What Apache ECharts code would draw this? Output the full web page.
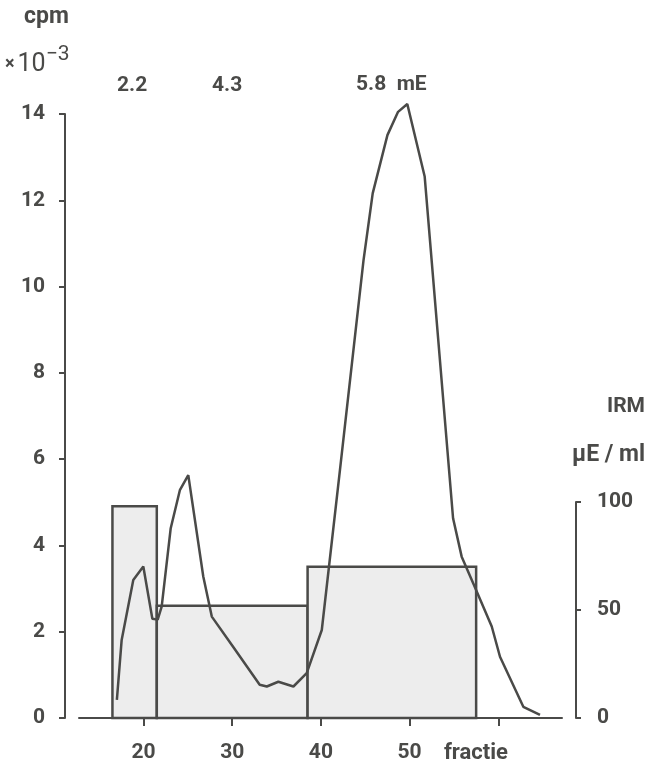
<!DOCTYPE html>
<html>
<head>
<meta charset="utf-8">
<script src="https://cdn.jsdelivr.net/npm/echarts@6/dist/echarts.min.js"></script>
<style>
  html, body { margin: 0; padding: 0; background: #fff; }
  #chart { width: 665px; height: 768px; }
</style>
</head>
<body>
<div id="chart"></div>
<script>
// cpm curve (x 10^-3) per fraction
var cpmFraction = [17.0, 17.54, 18.85, 19.98, 21.0, 21.6, 22.05, 23.07, 24.1, 25.05, 26.74, 27.7, 30.1, 33.1, 33.9, 35.2, 36.9, 38.4, 40.1, 42.15, 44.8, 45.84, 47.5, 48.7, 49.74, 51.7, 54.9, 55.87, 57.18, 59.26, 60.19, 62.82, 64.7];
var cpmValues = [0.42, 1.81, 3.2, 3.51, 2.3, 2.28, 2.58, 4.4, 5.28, 5.63, 3.28, 2.35, 1.65, 0.77, 0.73, 0.84, 0.73, 1.04, 2.04, 5.75, 10.6, 12.16, 13.51, 14.05, 14.23, 12.55, 4.63, 3.74, 3.12, 2.12, 1.42, 0.26, 0.07];

// IRM pools (uE/ml): fraction edges and value per pool
var poolEdges = [16.5, 21.5, 38.5, 57.5];
var poolValues = [98, 52, 70];

var xTicks = [20, 30, 40, 50, 60];
var xLabels = [20, 30, 40, 50];
var peakLabels = ['2.2', '4.3', '5.8  mE'];

var ink = '#4a4a48';
var font = 'Roboto';

var lineData = [];
for (var i = 0; i < cpmFraction.length; i++) {
    lineData.push([cpmFraction[i], cpmValues[i]]);
}
var poolData = [];
for (var j = 0; j < poolValues.length; j++) {
    poolData.push([poolEdges[j], poolEdges[j + 1], poolValues[j]]);
}

function xAxisFor(idx, show) {
    return {
        type: 'value', gridIndex: idx, min: 12.73, max: 67.18,
        show: show,
        splitLine: { show: false },
        axisLine: { lineStyle: { color: ink, width: 2 } },
        axisTick: { customValues: xTicks, length: 8, lineStyle: { color: ink, width: 2 } },
        axisLabel: { customValues: xLabels, margin: 24, color: ink, fontFamily: font, fontWeight: 'bold', fontSize: 21 }
    };
}

var option = {
    animation: false,
    backgroundColor: '#fff',
    grid: [
        { left: 79, right: 103, top: 114, bottom: 50 },
        { left: 79, right: 103, top: 502, bottom: 50 }
    ],
    xAxis: [xAxisFor(0, true), xAxisFor(1, false)],
    yAxis: [
        {
            type: 'value', gridIndex: 0, min: 0, max: 14, interval: 2, offset: 14,
            splitLine: { show: false },
            axisLine: { show: true, lineStyle: { color: ink, width: 2 } },
            axisTick: { show: true, length: 6, lineStyle: { color: ink, width: 2 } },
            axisLabel: { margin: 20, color: ink, fontFamily: font, fontWeight: 'bold', fontSize: 21 }
        },
        {
            type: 'value', gridIndex: 1, position: 'right', min: 0, max: 100, interval: 50, offset: 14,
            splitLine: { show: false },
            axisLine: { show: true, lineStyle: { color: ink, width: 2 } },
            axisTick: { show: true, length: 5, lineStyle: { color: ink, width: 2 } },
            axisLabel: { margin: 21, color: ink, fontFamily: font, fontWeight: 'bold', fontSize: 21 }
        }
    ],
    series: [
        {
            type: 'custom', xAxisIndex: 1, yAxisIndex: 1, z: 1,
            encode: { x: [0, 1], y: 2 },
            data: poolData,
            renderItem: function (params, api) {
                var p0 = api.coord([api.value(0), api.value(2)]);
                var p1 = api.coord([api.value(1), 0]);
                return {
                    type: 'rect',
                    shape: { x: p0[0], y: p0[1], width: p1[0] - p0[0], height: p1[1] - p0[1] },
                    style: { fill: '#ededed', stroke: ink, lineWidth: 2.5 }
                };
            }
        },
        {
            type: 'line', xAxisIndex: 0, yAxisIndex: 0, z: 3,
            data: lineData, showSymbol: false, clip: false,
            lineStyle: { color: ink, width: 2.5 }
        }
    ],
    graphic: [
        { type: 'text', left: 24, top: 6, style: { text: 'cpm', fill: ink, font: 'bold 23px Roboto' } },
        {
            type: 'text', left: 5, top: 44,
            style: {
                text: '{x|×}{n|10}{s|−3}', fill: ink,
                rich: {
                    x: { fontFamily: font, fontWeight: 'bold', fontSize: 18, fill: ink, padding: [8, 3, 0, 0] },
                    n: { fontFamily: font, fontSize: 25, fill: ink, padding: [8, 0, 0, 0] },
                    s: { fontFamily: font, fontSize: 21, fill: ink, padding: [0, 0, 12, 0] }
                }
            }
        },
        { type: 'text', left: 117, top: 75, style: { text: peakLabels[0], fill: ink, font: 'bold 21px Roboto' } },
        { type: 'text', left: 212, top: 75, style: { text: peakLabels[1], fill: ink, font: 'bold 21px Roboto' } },
        { type: 'text', left: 356, top: 74, style: { text: peakLabels[2], fill: ink, font: 'bold 21px Roboto' } },
        { type: 'text', left: 607, top: 396, style: { text: 'IRM', fill: ink, font: 'bold 21px Roboto' } },
        { type: 'text', left: 572, top: 444, style: { text: 'µE / ml', fill: ink, font: 'bold 23px Roboto' } },
        { type: 'text', left: 444, top: 742, style: { text: 'fractie', fill: ink, font: 'bold 22px Roboto' } }
    ]
};

var dom = document.getElementById('chart');
var myChart = echarts.init(dom);
myChart.setOption(option, true);
</script>
</body>
</html>
